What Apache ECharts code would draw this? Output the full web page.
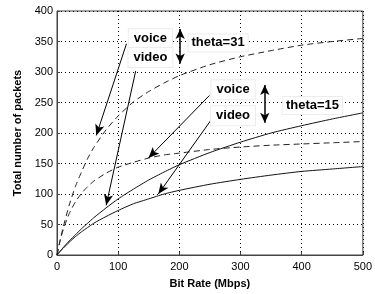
<!DOCTYPE html>
<html>
<head>
<meta charset="utf-8">
<script src="https://cdn.jsdelivr.net/npm/echarts@6/dist/echarts.min.js"></script>
<style>html,body{margin:0;padding:0;background:#fff}#c{width:375px;height:294px}</style>
</head>
<body>
<div id="c"></div>
<script>
// x values (Bit Rate, Mbps)
const bitRate = [0,5,10,20,30,40,50,60,80,100,125,150,175,200,250,300,350,400,450,500];
// theta=31, voice (dashed, upper)
const voice31 = [0,24,45,82,112,136,158,176,205,228,251,268,282,294,312,325,335,344,350,355];
// theta=15, voice (dashed, lower)
const voice15 = [0,23,41,68,87,101,112,121,134,144,152,159,164,167,173,177,180,182,184,186];
// theta=31, video (solid, upper)
const video31 = [0,6,12,23,33,43,52,61,77,92,108,123,136,148,168,185,200,212,223,233];
// theta=15, video (solid, lower)
const video15 = [0,6,11,21,30,38,45,52,63,73,84,92,100,106,116,124,131,137,141,145];

const xTicks = [0,100,200,300,400,500];
const yTicks = [0,50,100,150,200,250,300,350,400];

// annotation arrows, in data coordinates [from, to]
const arrows = [
  [[113.6,346.3],[64.3,196.1]],
  [[128.6,301.5],[80.4,81.5]],
  [[249.2,261.5],[149.5,159.0]],
  [[252.4,222.0],[165.6,99.8]]
];
const doubleArrows = [
  [[201.4,370.5],[201.4,314.0]],
  [[339.7,278.5],[339.7,217.0]]
];
// annotation texts: [text, x, y, align]
const labels = [
  ['voice',152.7,354.6,'center'],
  ['video',152.7,323.9,'center'],
  ['theta=31',215.0,347.7,'left'],
  ['voice',287.8,271.1,'center'],
  ['video',287.8,228.1,'center'],
  ['theta=15',369.3,245.2,'left']
];

function pairs(ys){ return bitRate.map((x,i)=>[x,ys[i]]); }

const chart = echarts.init(document.getElementById('c'), null, {renderer:'canvas'});
const FONT = 'Liberation Sans, Arial, Helvetica, sans-serif';
const dashed = {color:'#222', width:1, type:[6,4]};
const solid = {color:'#111', width:1, type:'solid'};
function lineSeries(ys, style){
  return {type:'line', data:pairs(ys), showSymbol:false, symbol:'none', smooth:0.2,
          lineStyle:style, silent:true, animation:false, z:3};
}
const option = {
  animation:false,
  backgroundColor:'#fff',
  grid:{left:57, right:7, top:11, bottom:35.5, show:true, borderColor:'#444', borderWidth:1, backgroundColor:'transparent'},
  xAxis:{type:'value', min:0, max:500, interval:100,
    name:'Bit Rate (Mbps)', nameLocation:'middle', nameGap:23,
    nameTextStyle:{fontFamily:FONT, fontSize:11, fontWeight:'bold', color:'#000'},
    axisLine:{show:true, lineStyle:{color:'#444'}},
    axisTick:{show:true, inside:true, length:3, lineStyle:{color:'#444'}},
    axisLabel:{fontFamily:FONT, fontSize:11, color:'#000', margin:6,
      formatter:v=>xTicks.indexOf(v)>=0?String(v):''},
    splitLine:{show:true, lineStyle:{color:'#000', width:1, type:[1,3]}}
  },
  yAxis:{type:'value', min:0, max:400, interval:50,
    name:'Total number of packets', nameLocation:'middle', nameGap:25,
    nameTextStyle:{fontFamily:FONT, fontSize:11, fontWeight:'bold', color:'#000'},
    axisLine:{show:true, lineStyle:{color:'#444'}},
    axisTick:{show:true, inside:true, length:3, lineStyle:{color:'#444'}},
    axisLabel:{fontFamily:FONT, fontSize:11, color:'#000', margin:4,
      formatter:v=>yTicks.indexOf(v)>=0?String(v):''},
    splitLine:{show:true, lineStyle:{color:'#000', width:1, type:[1,3]}}
  },
  series:[
    lineSeries(voice31, dashed),
    lineSeries(voice15, dashed),
    lineSeries(video31, solid),
    lineSeries(video15, solid),
    {type:'line', data:[], silent:true, z:5,
      markLine:{silent:true, animation:false, symbol:['none','arrow'], symbolSize:[7,11],
        label:{show:false}, emphasis:{disabled:true},
        lineStyle:{color:'#000', width:1, type:'solid'},
        data:arrows.map(a=>[{coord:a[0]},{coord:a[1]}])}
    },
    {type:'line', data:[], silent:true, z:5,
      markLine:{silent:true, animation:false, symbol:['arrow','arrow'], symbolSize:[7,10],
        label:{show:false}, emphasis:{disabled:true},
        lineStyle:{color:'#000', width:1.5, type:'solid'},
        data:doubleArrows.map(a=>[{coord:a[0]},{coord:a[1]}])}
    }
  ]
};
chart.setOption(option);

const graphics = labels.map(l=>{
  const p = chart.convertToPixel({gridIndex:0}, [l[1], l[2]]);
  const isTheta = l[0].indexOf('theta')===0;
  return {type:'text', x:p[0], y:p[1], z:10, silent:true,
    style:{text:l[0], font:'bold 13px '+FONT, fill:'#000',
      align:l[3], verticalAlign:'middle',
      backgroundColor:'#fff', borderColor:'#ececec', borderWidth:1,
      padding:isTheta?[2,3]:[3,5]}};
});
chart.setOption({graphic:graphics});
</script>
</body>
</html>
